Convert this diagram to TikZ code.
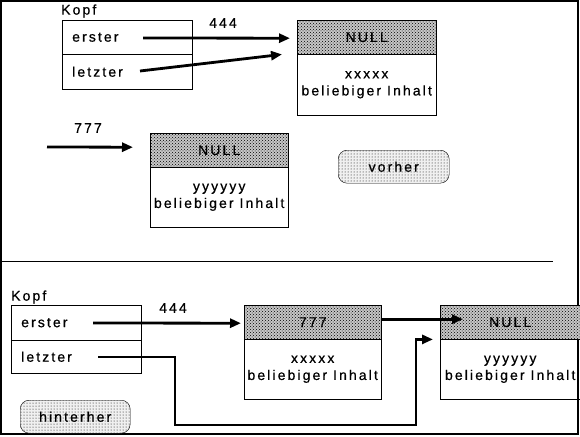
\documentclass[tikz,border=0pt]{standalone}
\usepackage{fontspec}
\setmainfont{Liberation Sans}[LetterSpace=15, FakeBold=0.6]
\usetikzlibrary{arrows.meta, patterns}
\tikzset{
  zelle/.style={rectangle, draw, anchor=north west, minimum height=34pt, text width=110pt, inner xsep=10pt, inner ysep=0pt, align=left},
  kopfteil/.style={rectangle, draw, anchor=north west, preaction={fill=black!22}, pattern=crosshatch dots, pattern color=black, minimum height=34pt, inner sep=0pt},
  rumpf/.style={rectangle, draw, anchor=north west, minimum height=60pt, inner sep=0pt, align=center},
  marke/.style={rectangle, rounded corners=9pt, draw, anchor=north west, preaction={fill=black!6}, pattern=dots, minimum width=111pt, minimum height=33pt},
  zeiger/.style={line width=2.8pt, -{Triangle[length=11pt, width=9pt]}},
  txt/.style={inner sep=0pt},
}

\begin{document}
\begin{tikzpicture}[x=1pt, y=-1pt, font=\fontsize{14}{17}\selectfont]
  \useasboundingbox (0,0) rectangle (580,436);
  \clip (0,0) rectangle (580,436);
  \draw[line width=2pt] (1,1) rectangle (578,434);
  \draw[line width=1pt] (0,261) -- (553,261);

  % vorher
  \node[txt, anchor=west] (kopfA) at (61,11) {Kopf};
  \node[zelle, minimum width=130pt] (ersterA)  at (62,20) {erster};
  \node[zelle, minimum width=130pt, minimum height=35pt] (letzterA) at (62,54) {letzter};
  \node[kopfteil, minimum width=139pt] (nextA) at (297,20) {NULL};
  \node[rumpf, minimum width=139pt, minimum height=61pt] (datA) at (297,54) {xxxxx\\beliebiger Inhalt};
  \node[kopfteil, minimum width=138pt] (nextB) at (150,133) {NULL};
  \node[rumpf, minimum width=138pt] (datB) at (150,167) {yyyyyy\\beliebiger Inhalt};
  \node[marke] (vorher) at (338,150) {vorher};
  \node[txt] (adrA) at (223,23) {444};
  \node[txt] (adrB) at (88,128) {777};

  \coordinate (eA) at (143,38);
  \coordinate (lA) at (140,71);
  \coordinate (nA) at (47,147);
  \draw[zeiger] (eA) -- ([xshift=-7pt, yshift=-1pt]nextA.west);
  \draw[zeiger] (lA) -- ([xshift=-15pt]nextA.south west);
  \draw[zeiger] (nA) -- ([xshift=-17pt, yshift=3pt]nextB.west);

  % hinterher
  \node[txt, anchor=west] (kopfC) at (11,297) {Kopf};
  \node[zelle, minimum width=128pt, minimum height=35pt] (ersterC)  at (11,305) {erster};
  \node[zelle, minimum width=128pt, minimum height=33pt] (letzterC) at (11,340) {letzter};
  \node[kopfteil, minimum width=137pt] (nextC) at (244,305) {777};
  \node[rumpf, minimum width=137pt] (datC) at (244,339) {xxxxx\\beliebiger Inhalt};
  \node[kopfteil, minimum width=140pt] (nextD) at (440,305) {NULL};
  \node[rumpf, minimum width=140pt] (datD) at (440,339) {yyyyyy\\beliebiger Inhalt};
  \node[marke, minimum width=110pt] (hinterher) at (20,400) {hinterher};
  \node[txt] (adrC) at (173,308) {444};

  \coordinate (eC) at (93,323);
  \coordinate (lC) at (98,357);
  \coordinate (kC) at (175,425);
  \coordinate (hC) at (416,425);
  \draw[zeiger] (eC) -- ([xshift=-3pt, yshift=-1pt]nextC.west);
  \draw[zeiger] ([yshift=3pt]nextC.east) -- ([xshift=23pt, yshift=3pt]nextD.west);
  \draw[zeiger] (lC) -| (kC) -- (hC) |- ([xshift=-7pt]nextD.south west);
\end{tikzpicture}
\end{document}
